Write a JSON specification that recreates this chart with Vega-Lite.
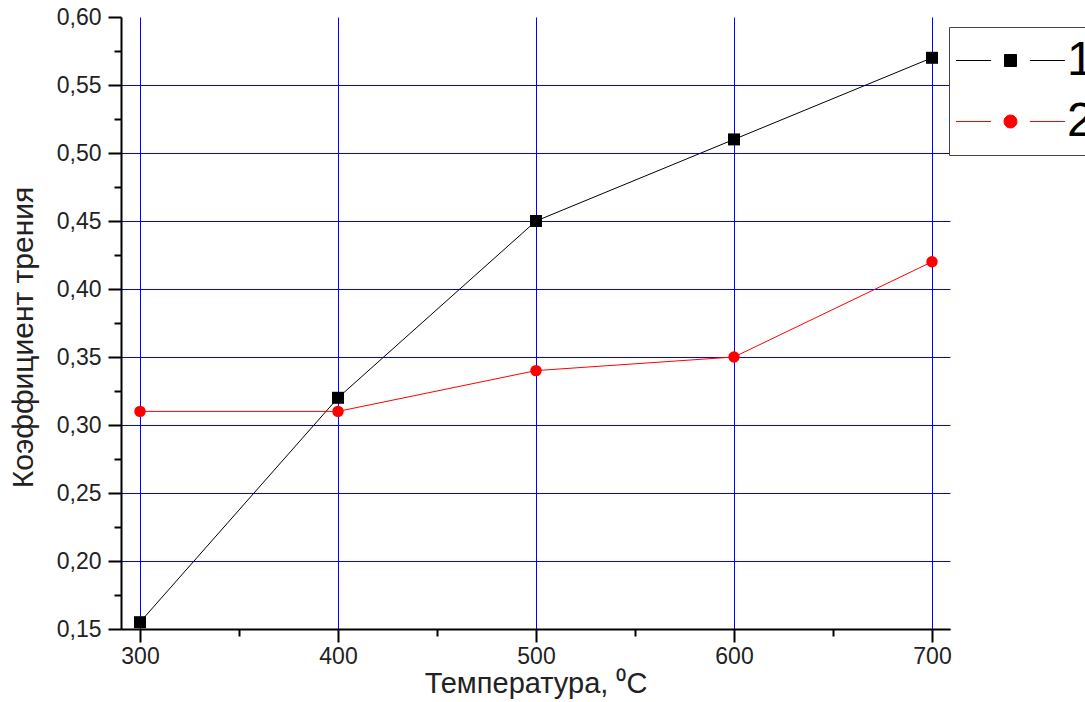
{
  "$schema": "https://vega.github.io/schema/vega-lite/v6.json",
  "autosize": {"type": "none"},
  "width": 829,
  "height": 612,
  "padding": {"left": 121, "top": 17, "right": 135, "bottom": 73},
  "background": "white",
  "config": {
    "view": {"stroke": null},
    "font": "Liberation Sans"
  },
  "data": {
    "values": [
      {"t": 300, "k": 0.155, "s": "1"},
      {"t": 400, "k": 0.32, "s": "1"},
      {"t": 500, "k": 0.45, "s": "1"},
      {"t": 600, "k": 0.51, "s": "1"},
      {"t": 700, "k": 0.57, "s": "1"},
      {"t": 300, "k": 0.31, "s": "2"},
      {"t": 400, "k": 0.31, "s": "2"},
      {"t": 500, "k": 0.34, "s": "2"},
      {"t": 600, "k": 0.35, "s": "2"},
      {"t": 700, "k": 0.42, "s": "2"}
    ]
  },
  "encoding": {
    "x": {
      "field": "t", "type": "quantitative",
      "scale": {"domain": [290.404, 709.091], "nice": false, "zero": false},
      "axis": {
        "title": "Температура, ⁰C",
        "values": [300, 350, 400, 450, 500, 550, 600, 650, 700],
        "labelExpr": "datum.value % 100 == 0 ? datum.label : ''",
        "labelFontSize": 23, "labelColor": "#222", "labelPadding": 3,
        "tickSize": {"condition": {"test": "datum.value % 100 == 0", "value": 13}, "value": 7},
        "tickWidth": 2, "tickColor": "black",
        "domainColor": "black", "domainWidth": 2,
        "grid": true, "gridColor": "#0000ff", "gridWidth": 1,
        "gridOpacity": {"condition": {"test": "datum.value % 100 == 0", "value": 1}, "value": 0},
        "titleFontSize": 29, "titleFontWeight": "normal", "titleColor": "#222", "titlePadding": 1
      }
    },
    "y": {
      "field": "k", "type": "quantitative",
      "scale": {"domain": [0.15, 0.6], "nice": false, "zero": false},
      "axis": {
        "title": "Коэффициент трения",
        "values": [0.15, 0.175, 0.2, 0.225, 0.25, 0.275, 0.3, 0.325, 0.35, 0.375, 0.4, 0.425, 0.45, 0.475, 0.5, 0.525, 0.55, 0.575, 0.6],
        "labelExpr": "round(datum.value * 1000) % 50 == 0 ? replace(format(datum.value, '.2f'), '.', ',') : ''",
        "labelFontSize": 23, "labelColor": "#222", "labelPadding": 7,
        "tickSize": {"condition": {"test": "round(datum.value * 1000) % 50 == 0", "value": 13}, "value": 7},
        "tickWidth": 2, "tickColor": "black",
        "domainColor": "black", "domainWidth": 2,
        "grid": true, "gridColor": "#0000ff", "gridWidth": 1,
        "gridOpacity": {"condition": {"test": "round(datum.value * 1000) % 50 == 0 && datum.value < 0.59", "value": 1}, "value": 0},
        "titleFontSize": 30, "titleFontWeight": "normal", "titleColor": "#222", "titlePadding": 18, "titleY": 320
      }
    },
    "color": {
      "field": "s", "type": "nominal",
      "scale": {"domain": ["1", "2"], "range": ["black", "red"]},
      "legend": {
        "title": null,
        "orient": "none",
        "legendX": 828,
        "legendY": 10,
        "padding": 9,
        "rowPadding": 12,
        "strokeColor": "#444",
        "fillColor": "white",
        "labelFontSize": 48,
        "labelColor": "black",
        "labelOffset": 60,
        "symbolSize": 2304,
        "symbolStrokeWidth": 1,
        "encode": {
          "symbols": {
            "update": {
              "shape": {"signal": "datum.value == '1' ? 'M-2.27,0H-0.81M0.81,0H2.27M-0.25,-0.25H0.25V0.25H-0.25Z' : 'M-2.27,0H-0.81M0.81,0H2.27M-0.27,0A0.27,0.27,0,1,1,0.27,0A0.27,0.27,0,1,1,-0.27,0Z'"},
              "size": {"value": 2304},
              "x": {"value": 52.5},
              "stroke": {"signal": "datum.value == '1' ? 'black' : 'red'"},
              "fill": {"signal": "datum.value == '1' ? 'black' : 'red'"},
              "opacity": {"value": 1},
              "strokeWidth": {"value": 1}
            }
          }
        }
      }
    }
  },
  "layer": [
    {
      "mark": {"type": "line", "strokeWidth": 1}
    },
    {
      "transform": [{"filter": "datum.s == '1'"}],
      "mark": {"type": "point", "filled": true, "opacity": 1, "shape": "square", "size": 144}
    },
    {
      "transform": [{"filter": "datum.s == '2'"}],
      "mark": {"type": "point", "filled": true, "opacity": 1, "shape": "circle", "size": 130}
    }
  ]
}
